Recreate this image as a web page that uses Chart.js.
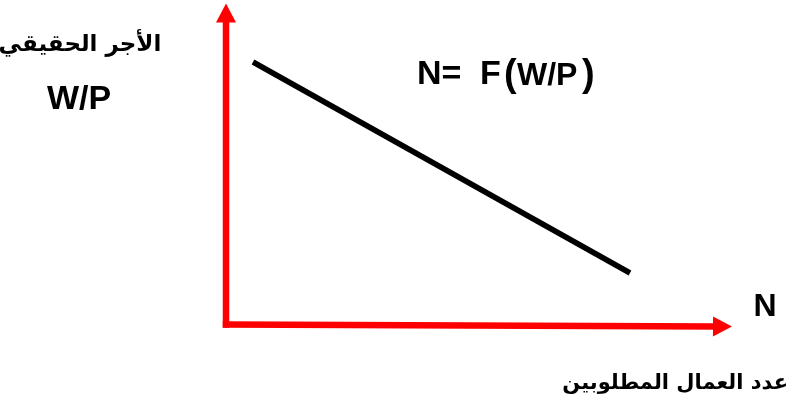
<!DOCTYPE html>
<html>
<head>
<meta charset="utf-8">
<script src="https://cdn.jsdelivr.net/npm/chart.js@4"></script>
<style>
  html, body { margin: 0; padding: 0; background: #fff; }
  #wrap { width: 791px; height: 408px; }
</style>
</head>
<body>
<div id="wrap"><canvas id="chart"></canvas></div>
<script>
// demand for labour: N as a function of the real wage W/P
const curveN = [27, 404]
const curveWP = [262.5, 51.5]

// the two axes (drawn as red arrows)
const yAxisN = [0, 0]
const yAxisWP = [0, 302]
const xAxisN = [0, 487]
const xAxisWP = [0, -2]

const toPoints = (xs, ys) => xs.map((x, i) => ({ x: x, y: ys[i] }))

const LATIN = "'Liberation Sans', Arial, 'DejaVu Sans', sans-serif"
const ARABIC = "'DejaVu Sans', 'Liberation Sans', sans-serif"

const arrowPlugin = {
  id: 'arrowHeads',
  afterDatasetsDraw(chart) {
    const ctx = chart.ctx
    ctx.save()
    chart.data.datasets.forEach((dataset, i) => {
      if (!dataset.arrow) return
      const pts = chart.getDatasetMeta(i).data
      const a = pts[pts.length - 2]
      const b = pts[pts.length - 1]
      const ang = Math.atan2(b.y - a.y, b.x - a.x)
      const len = 19
      const half = 10
      const tx = b.x + Math.cos(ang) * len
      const ty = b.y + Math.sin(ang) * len
      ctx.fillStyle = dataset.borderColor
      ctx.beginPath()
      ctx.moveTo(tx, ty)
      ctx.lineTo(b.x - Math.sin(ang) * half, b.y + Math.cos(ang) * half)
      ctx.lineTo(b.x + Math.sin(ang) * half, b.y - Math.cos(ang) * half)
      ctx.closePath()
      ctx.fill()
    })
    ctx.restore()
  }
}

const labelPlugin = {
  id: 'diagramLabels',
  afterDraw(chart) {
    const ctx = chart.ctx
    ctx.save()
    ctx.fillStyle = "#000"
    ctx.textBaseline = "middle"
    ctx.textAlign = "center"

    ctx.font = "bold 23px " + ARABIC
    ctx.fillText("الأجر الحقيقي", 80, 45)

    ctx.font = "bold 34px " + LATIN
    ctx.fillText("W/P", 79, 100)

    ctx.font = "bold 32px " + LATIN
    ctx.fillText("N", 765, 307)

    ctx.textAlign = "right"
    ctx.font = "bold 21px " + ARABIC
    ctx.fillText("عدد العمال المطلوبين", 788, 384)

    // N= F(W/P) with a smaller W/P inside big brackets
    ctx.textAlign = "left"
    const y = 75
    const parts = [
      ["N=", 34, 417, 0], ["F", 34, 480, 0], ["(", 38, 504, 1],
      ["W/P", 32, 517, 1], [")", 38, 582, 1]
    ]
    parts.forEach(([t, size, px, dy]) => {
      ctx.font = "bold " + size + "px " + LATIN
      ctx.fillText(t, px, y + dy)
    })
    ctx.restore()
  }
}

new Chart(document.getElementById("chart").getContext("2d"), {
  type: "line",
  data: {
    datasets: [
      {
        label: "y axis",
        data: toPoints(yAxisN, yAxisWP),
        borderColor: "#ff0000",
        borderWidth: 6.5,
        borderCapStyle: "square",
        pointRadius: 0,
        arrow: true
      },
      {
        label: "x axis",
        data: toPoints(xAxisN, xAxisWP),
        borderColor: "#ff0000",
        borderWidth: 6.5,
        borderCapStyle: "square",
        pointRadius: 0,
        arrow: true
      },
      {
        label: "N = F(W/P)",
        data: toPoints(curveN, curveWP),
        borderColor: "#000000",
        borderWidth: 5.5,
        pointRadius: 0
      }
    ]
  },
  options: {
    responsive: true,
    maintainAspectRatio: false,
    animation: false,
    events: [],
    layout: { padding: 0 },
    scales: {
      x: { type: "linear", display: false, min: -226, max: 565 },
      y: { type: "linear", display: false, min: -83.5, max: 324.5 }
    },
    plugins: {
      legend: { display: false },
      tooltip: { enabled: false }
    }
  },
  plugins: [arrowPlugin, labelPlugin]
})
</script>
</body>
</html>
